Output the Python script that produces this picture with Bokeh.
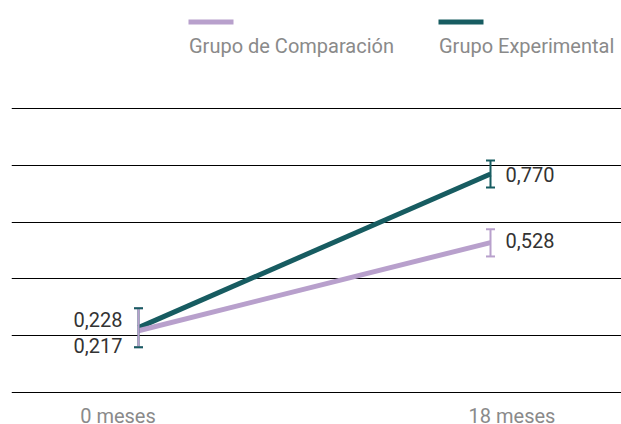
from bokeh.plotting import figure
from bokeh.models import FixedTicker, Range1d
from bokeh.core.properties import value
from bokeh.embed import file_html
from bokeh.resources import INLINE

# ---- data ----
meses = [0, 18]
mes_labels = ["0 meses", "18 meses"]
series_names = ["Grupo de Comparación", "Grupo Experimental"]
comparacion = [0.217, 0.528]
experimental = [0.228, 0.770]
comp_lower = [0.159, 0.479]
comp_upper = [0.296, 0.575]
exp_lower = [0.159, 0.722]
exp_upper = [0.296, 0.818]
grid_ticks = [0, 0.2, 0.4, 0.6, 0.8, 1.0]

# ---- style ----
PURPLE = "#b8a0cc"
TEAL = "#175c61"
VAL_COLOR = "#333333"
GRAY = "#8a8a8a"
FONT = value("Roboto")

W, H = 621, 424
FRAME_LEFT = 11
# canvas pixel positions of the two time points and of y=0 / y=1
X0_PX, X18_PX = 138.0, 490.0
Y0_PX, Y1_PX = 391.7, 108.3
SX = (X18_PX - X0_PX) / (meses[1] - meses[0])
SY = (Y0_PX - Y1_PX)


def dx(cx):
    return meses[0] + (cx - X0_PX) / SX


def dy(cy):
    return (Y0_PX - cy) / SY


p = figure(width=W, height=H, output_backend="svg", toolbar_location=None,
           x_axis_location=None, y_axis_location=None,
           x_range=Range1d(dx(FRAME_LEFT), dx(W)), y_range=Range1d(dy(H), dy(0)),
           min_border_left=FRAME_LEFT, min_border_right=0,
           min_border_top=0, min_border_bottom=0)
p.outline_line_color = None
p.background_fill_color = "white"
p.border_fill_color = "white"
p.xgrid.visible = False
p.ygrid.ticker = FixedTicker(ticks=grid_ticks)
p.ygrid.grid_line_color = "black"
p.ygrid.grid_line_width = 1

# lines
p.line(meses, experimental, line_color=TEAL, line_width=5)
p.line(meses, comparacion, line_color=PURPLE, line_width=5)

# error bars
p.segment(x0=meses, y0=exp_lower, x1=meses, y1=exp_upper, line_color=TEAL, line_width=2)
p.segment(x0=meses, y0=comp_lower, x1=meses, y1=comp_upper, line_color=PURPLE, line_width=2)
for lo, hi, col in [(comp_lower, comp_upper, PURPLE), (exp_lower, exp_upper, TEAL)]:
    p.dash(x=meses, y=lo, size=9, line_color=col, line_width=2)
    p.dash(x=meses, y=hi, size=9, line_color=col, line_width=2)


def fmt(v):
    return f"{v:.3f}".replace(".", ",")


VAL_SIZE = "20px"
# value labels
p.text(x=[meses[1]], y=[experimental[1]], text=[fmt(experimental[1])], x_offset=15, y_offset=1,
       text_align="left", text_baseline="middle", text_font=FONT, text_font_size=VAL_SIZE,
       text_color=VAL_COLOR)
p.text(x=[meses[1]], y=[comparacion[1]], text=[fmt(comparacion[1])], x_offset=15, y_offset=-2,
       text_align="left", text_baseline="middle", text_font=FONT, text_font_size=VAL_SIZE,
       text_color=VAL_COLOR)
p.text(x=[meses[0]], y=[experimental[0]], text=[fmt(experimental[0])], x_offset=-16, y_offset=-8,
       text_align="right", text_baseline="middle", text_font=FONT, text_font_size=VAL_SIZE,
       text_color=VAL_COLOR)
p.text(x=[meses[0]], y=[comparacion[0]], text=[fmt(comparacion[0])], x_offset=-16, y_offset=15,
       text_align="right", text_baseline="middle", text_font=FONT, text_font_size=VAL_SIZE,
       text_color=VAL_COLOR)

# x category labels
p.text(x=[meses[0]], y=[0], text=[mes_labels[0]], x_offset=-20.5, y_offset=23.5,
       text_align="center", text_baseline="middle", text_font=FONT,
       text_font_size="20px", text_color=GRAY)
p.text(x=[meses[1]], y=[0], text=[mes_labels[1]], x_offset=21.5, y_offset=23.5,
       text_align="center", text_baseline="middle", text_font=FONT,
       text_font_size="20px", text_color=GRAY)

# legend (swatch above label)
for left, col, name in [(188.0, PURPLE, series_names[0]), (438.0, TEAL, series_names[1])]:
    p.segment(x0=[dx(left)], y0=[dy(21.5)], x1=[dx(left + 45)], y1=[dy(21.5)],
              line_color=col, line_width=5, line_cap="butt")
    p.text(x=[dx(left + 0.5)], y=[dy(45.5)], text=[name], text_align="left",
           text_baseline="middle", text_font=FONT, text_font_size="20px",
           text_color=GRAY)

open("out.html", "w").write(file_html(p, INLINE))
